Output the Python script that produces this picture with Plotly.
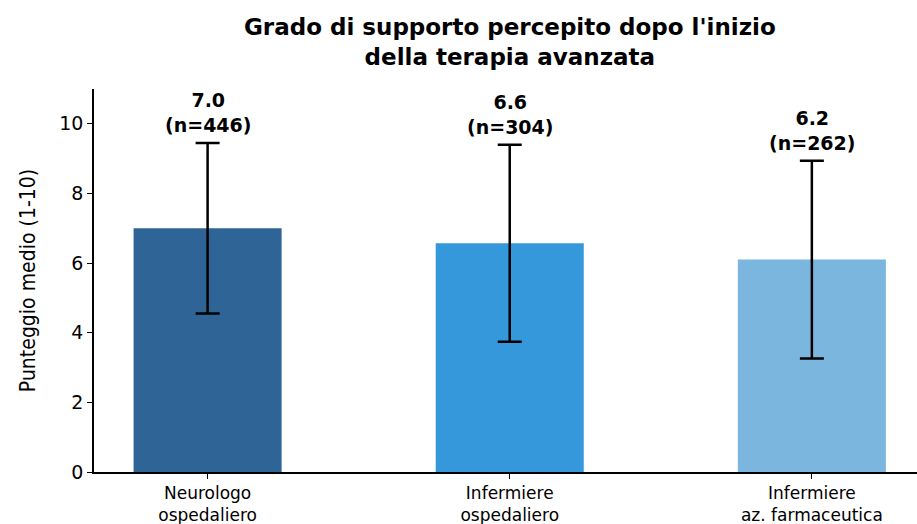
import plotly.graph_objects as go

categories = ["Neurologo<br>ospedaliero", "Infermiere<br>ospedaliero", "Infermiere<br>az. farmaceutica"]
means = [7.0, 6.57, 6.1]
sds = [2.45, 2.83, 2.84]
mean_labels = ["7.0", "6.6", "6.2"]
counts = [446, 304, 262]
colors = ["#2E6596", "#3598DB", "#7BB6DF"]
y_ticks = [0, 2, 4, 6, 8, 10]

x = list(range(len(categories)))

fig = go.Figure()
fig.add_trace(go.Bar(
    x=x, y=means, width=0.49,
    marker=dict(color=colors, line=dict(width=0)),
    error_y=dict(type="data", array=sds, visible=True, color="black", thickness=2.5, width=12),
    showlegend=False,
))

for xi, m, s, lab, n in zip(x, means, sds, mean_labels, counts):
    fig.add_annotation(
        x=xi, y=m + s, yanchor="bottom", yshift=5, showarrow=False,
        text=f"<b>{lab}<br>(n={n})</b>",
        font=dict(family="DejaVu Sans", size=19, color="black"),
    )

fig.update_layout(
    width=917, height=524,
    margin=dict(l=94, r=0, t=89, b=52),
    paper_bgcolor="white", plot_bgcolor="white",
    title=dict(
        text="<b>Grado di supporto percepito dopo l'inizio<br>della terapia avanzata</b>",
        x=0.556, xanchor="center", xref="container",
        y=0.933, yanchor="middle", yref="container",
        font=dict(family="DejaVu Sans", size=23, color="black"),
    ),
    font=dict(family="DejaVu Sans", color="black"),
)
fig.update_xaxes(
    range=[-0.376, 2.348], tickvals=x, ticktext=categories, automargin=False,
    showline=True, linecolor="black", linewidth=1.5,
    ticks="outside", ticklen=5, tickcolor="black",
    tickfont=dict(family="DejaVu Sans", size=17, color="black"),
    showgrid=False, zeroline=False,
)
fig.update_yaxes(
    range=[0, 11], tickvals=y_ticks, automargin=False,
    showline=True, linecolor="black", linewidth=1.5,
    ticks="outside", ticklen=5, tickcolor="black",
    tickfont=dict(family="DejaVu Sans", size=19, color="black"),
    title=dict(text="Punteggio medio (1-10)", standoff=18,
               font=dict(family="DejaVu Sans Condensed, Liberation Sans Narrow, DejaVu Sans", size=21, color="black")),
    showgrid=False, zeroline=False,
)

fig.write_html("out.html", config={"displayModeBar": False},
               post_script="document.body.style.margin='0';document.body.style.padding='0';")
